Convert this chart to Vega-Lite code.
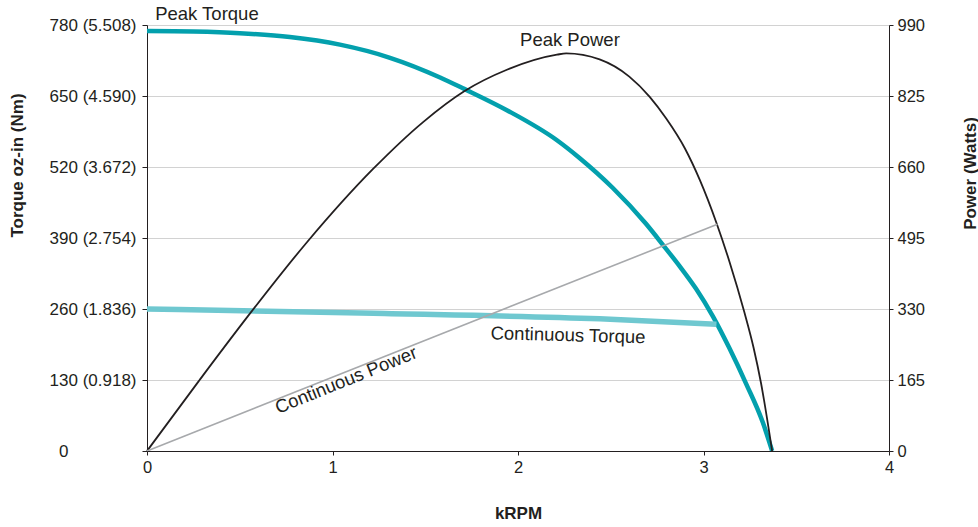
{
  "$schema": "https://vega.github.io/schema/vega-lite/v6.json",
  "width": 742,
  "height": 426,
  "autosize": {"type": "none"},
  "padding": {"left": 147, "top": 25, "right": 89, "bottom": 76},
  "background": "white",
  "config": {
    "view": {"stroke": null},
    "font": "Liberation Sans",
    "axis": {
      "labelFont": "Liberation Sans",
      "titleFont": "Liberation Sans",
      "labelColor": "#231f20",
      "titleColor": "#231f20",
      "domainColor": "#231f20",
      "tickColor": "#231f20",
      "labelFontSize": 17,
      "titleFontSize": 17,
      "titleFontWeight": "bold",
      "labelFlush": false
    }
  },
  "datasets": {
    "curves": [
      {"series": "Peak Torque", "krpm": 0, "value": 769},
      {"series": "Peak Torque", "krpm": 0.25, "value": 768},
      {"series": "Peak Torque", "krpm": 0.5, "value": 765},
      {"series": "Peak Torque", "krpm": 0.77, "value": 758},
      {"series": "Peak Torque", "krpm": 1.04, "value": 744},
      {"series": "Peak Torque", "krpm": 1.31, "value": 720},
      {"series": "Peak Torque", "krpm": 1.58, "value": 684},
      {"series": "Peak Torque", "krpm": 1.71, "value": 663},
      {"series": "Peak Torque", "krpm": 1.94, "value": 624},
      {"series": "Peak Torque", "krpm": 2.21, "value": 569},
      {"series": "Peak Torque", "krpm": 2.33, "value": 537},
      {"series": "Peak Torque", "krpm": 2.51, "value": 482},
      {"series": "Peak Torque", "krpm": 2.69, "value": 416},
      {"series": "Peak Torque", "krpm": 2.78, "value": 378},
      {"series": "Peak Torque", "krpm": 2.87, "value": 339},
      {"series": "Peak Torque", "krpm": 2.96, "value": 297},
      {"series": "Peak Torque", "krpm": 3.05, "value": 247},
      {"series": "Peak Torque", "krpm": 3.14, "value": 188},
      {"series": "Peak Torque", "krpm": 3.23, "value": 123},
      {"series": "Peak Torque", "krpm": 3.32, "value": 52},
      {"series": "Peak Torque", "krpm": 3.37, "value": 0},
      {"series": "Continuous Torque", "krpm": 0, "value": 260},
      {"series": "Continuous Torque", "krpm": 1.22, "value": 252},
      {"series": "Continuous Torque", "krpm": 2.44, "value": 242},
      {"series": "Continuous Torque", "krpm": 3.07, "value": 232},
      {"series": "Peak Power", "krpm": 0, "value": 0},
      {"series": "Peak Power", "krpm": 0.28, "value": 163},
      {"series": "Peak Power", "krpm": 0.54, "value": 311},
      {"series": "Peak Power", "krpm": 0.86, "value": 484},
      {"series": "Peak Power", "krpm": 1.22, "value": 656},
      {"series": "Peak Power", "krpm": 1.49, "value": 765},
      {"series": "Peak Power", "krpm": 1.71, "value": 836},
      {"series": "Peak Power", "krpm": 1.94, "value": 886},
      {"series": "Peak Power", "krpm": 2.21, "value": 921},
      {"series": "Peak Power", "krpm": 2.26, "value": 924},
      {"series": "Peak Power", "krpm": 2.44, "value": 910},
      {"series": "Peak Power", "krpm": 2.6, "value": 870},
      {"series": "Peak Power", "krpm": 2.71, "value": 823},
      {"series": "Peak Power", "krpm": 2.8, "value": 772},
      {"series": "Peak Power", "krpm": 2.9, "value": 703},
      {"series": "Peak Power", "krpm": 2.98, "value": 630},
      {"series": "Peak Power", "krpm": 3.07, "value": 530},
      {"series": "Peak Power", "krpm": 3.14, "value": 440},
      {"series": "Peak Power", "krpm": 3.22, "value": 323},
      {"series": "Peak Power", "krpm": 3.27, "value": 240},
      {"series": "Peak Power", "krpm": 3.31, "value": 158},
      {"series": "Peak Power", "krpm": 3.37, "value": 0},
      {"series": "Continuous Power", "krpm": 0, "value": 0},
      {"series": "Continuous Power", "krpm": 3.075, "value": 527}
    ],
    "labels": [
      {"label": "Peak Torque", "krpm": 0.323, "torque": 800},
      {"label": "Peak Power", "krpm": 2.28, "torque": 752},
      {"label": "Continuous Torque", "krpm": 2.27, "torque": 212},
      {"label": "Continuous Power", "krpm": 1.073, "torque": 130}
    ]
  },
  "layer": [
    {
      "data": {"name": "curves"},
      "transform": [{"filter": "datum.series == 'Peak Torque' || datum.series == 'Continuous Torque'"}],
      "mark": {"type": "line", "interpolate": "monotone", "strokeCap": "butt"},
      "encoding": {
        "x": {
          "field": "krpm", "type": "quantitative",
          "scale": {"domain": [0, 4], "nice": false},
          "axis": {
            "values": [0, 1, 2, 3, 4], "format": "d", "grid": false,
            "tickSize": 4, "labelPadding": 4, "labelFontSize": 16.5,
            "title": "kRPM", "titlePadding": 30, "zindex": 1
          }
        },
        "y": {
          "field": "value", "type": "quantitative",
          "scale": {"domain": [0, 780], "nice": false},
          "axis": {
            "orient": "left",
            "values": [0, 130, 260, 390, 520, 650, 780],
            "labelExpr": "datum.value == 0 ? '0' : datum.value + ' (' + format(datum.value / 141.612, '.3f') + ')'",
            "labelPadding": {"condition": {"test": "datum.value == 0", "value": 74}, "value": 6},
            "tickSize": 5,
            "grid": true, "gridColor": "#d2d2d2", "gridWidth": 1,
            "title": "Torque oz-in (Nm)",
            "titleAngle": 270, "titleAlign": "center", "titleBaseline": "middle",
            "titleX": -130, "titleY": 140
          }
        },
        "detail": {"field": "series"},
        "color": {
          "field": "series", "type": "nominal",
          "scale": {"domain": ["Peak Torque", "Continuous Torque"], "range": ["#03a0ad", "#6fc8d0"]},
          "legend": null
        },
        "strokeWidth": {
          "field": "series", "type": "nominal",
          "scale": {"domain": ["Peak Torque", "Continuous Torque"], "range": [4.5, 5.5]},
          "legend": null
        }
      }
    },
    {
      "data": {"name": "curves"},
      "transform": [{"filter": "datum.series == 'Peak Power' || datum.series == 'Continuous Power'"}],
      "mark": {"type": "line", "interpolate": "monotone"},
      "encoding": {
        "x": {"field": "krpm", "type": "quantitative", "scale": {"domain": [0, 4], "nice": false}},
        "y": {
          "field": "value", "type": "quantitative",
          "scale": {"domain": [0, 990], "nice": false},
          "axis": {
            "orient": "right",
            "values": [0, 165, 330, 495, 660, 825, 990],
            "format": "d", "grid": false, "tickSize": 4, "labelPadding": 4,
            "labelFontSize": 16.5,
            "title": "Power (Watts)",
            "titleAngle": 270, "titleAlign": "center", "titleBaseline": "middle",
            "titleX": 81, "titleY": 148
          }
        },
        "detail": {"field": "series"},
        "color": {
          "field": "series", "type": "nominal",
          "scale": {"domain": ["Peak Power", "Continuous Power"], "range": ["#231f20", "#a7a9ac"]},
          "legend": null
        },
        "strokeWidth": {
          "field": "series", "type": "nominal",
          "scale": {"domain": ["Peak Power", "Continuous Power"], "range": [1.8, 1.6]},
          "legend": null
        }
      }
    },
    {
      "data": {"name": "labels"},
      "transform": [{"filter": "datum.label == 'Peak Torque' || datum.label == 'Peak Power'"}],
      "mark": {"type": "text", "font": "Liberation Sans", "fontSize": 18.5, "color": "#231f20", "align": "center", "baseline": "middle"},
      "encoding": {
        "x": {"field": "krpm", "type": "quantitative", "scale": {"domain": [0, 4], "nice": false}},
        "y": {"field": "torque", "type": "quantitative", "scale": {"domain": [0, 780], "nice": false}, "axis": null},
        "text": {"field": "label"}
      }
    },
    {
      "data": {"name": "labels"},
      "transform": [{"filter": "datum.label == 'Continuous Torque'"}],
      "mark": {"type": "text", "font": "Liberation Sans", "fontSize": 18.5, "color": "#231f20", "align": "center", "baseline": "middle", "angle": 1.5},
      "encoding": {
        "x": {"field": "krpm", "type": "quantitative", "scale": {"domain": [0, 4], "nice": false}},
        "y": {"field": "torque", "type": "quantitative", "scale": {"domain": [0, 780], "nice": false}, "axis": null},
        "text": {"field": "label"}
      }
    },
    {
      "data": {"name": "labels"},
      "transform": [{"filter": "datum.label == 'Continuous Power'"}],
      "mark": {"type": "text", "font": "Liberation Sans", "fontSize": 18.5, "color": "#231f20", "align": "center", "baseline": "middle", "angle": -22},
      "encoding": {
        "x": {"field": "krpm", "type": "quantitative", "scale": {"domain": [0, 4], "nice": false}},
        "y": {"field": "torque", "type": "quantitative", "scale": {"domain": [0, 780], "nice": false}, "axis": null},
        "text": {"field": "label"}
      }
    }
  ],
  "resolve": {"scale": {"y": "independent", "color": "independent", "strokeWidth": "independent"}}
}
